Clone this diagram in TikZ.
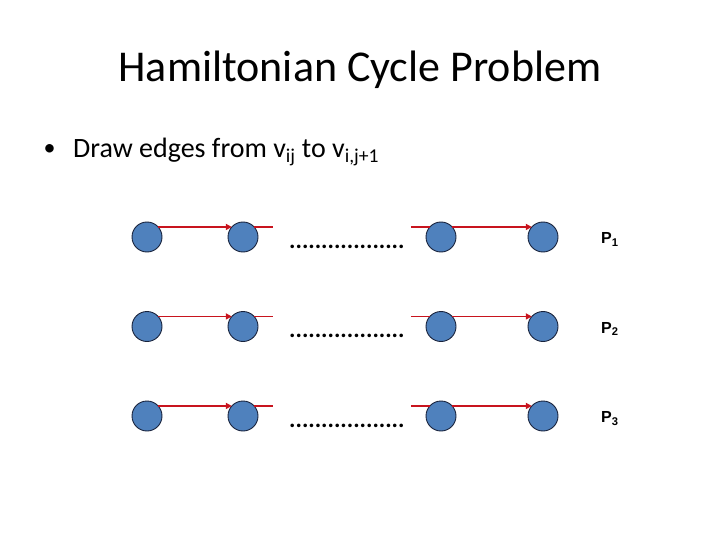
\documentclass[tikz,border=0pt]{standalone}
\usepackage{fontspec}
\setmainfont{Carlito}
\newfontfamily\arialfont{Liberation Sans}
\usetikzlibrary{arrows.meta,calc}
\definecolor{nodeblue}{RGB}{79,129,189}
\definecolor{nodeline}{RGB}{25,35,60}
\definecolor{edgered}{RGB}{200,20,30}
\tikzset{
  vert/.style={circle,fill=nodeblue,draw=nodeline,line width=0.9pt,minimum size=30pt,inner sep=0pt,outer sep=0pt},
  edge/.style={draw=edgered,line width=1.6pt},
  arr/.style={edge,-{Triangle[length=6pt,width=6pt]}},
  dotsl/.style={anchor=base west,inner sep=0pt,font=\fontsize{24}{24}\selectfont\bfseries},
  plabel/.style={anchor=base west,inner sep=0pt,font=\arialfont\bfseries\fontsize{16}{16}\selectfont}
}
\begin{document}
\begin{tikzpicture}[x=1pt,y=-1pt]
\useasboundingbox (0,0) rectangle (720,540);
\node[anchor=base,inner sep=0pt,font=\fontsize{44}{44}\selectfont] (title) at (360,81.7) {Hamiltonian Cycle Problem};
\node[anchor=base,inner sep=0pt,font=\fontsize{24}{24}\selectfont] (bul) at (49.5,156) {•};
\node[anchor=base west,inner sep=0pt,font=\fontsize{28}{28}\selectfont] (btext) at (73,157.3) {Draw edges from v\textsubscript{ij} to v\textsubscript{i,j+1}};
\foreach \r/\y in {1/237,2/326.5,3/416}{
  \node[vert] (v\r1) at (147,\y) {};
  \node[vert] (v\r2) at (243,\y) {};
  \node[vert] (v\r3) at (441,\y) {};
  \node[vert] (v\r4) at (543,\y) {};
  \coordinate (s\r a) at ($(v\r2.42)+(19,0)$);
  \coordinate (s\r b) at ($(v\r3.138)+(-19,0)$);
  \draw[arr] (v\r1.42) -- (v\r2.138);
  \draw[edge] (v\r2.42) -- (s\r a);
  \draw[edge] (s\r b) -- (v\r3.138);
  \draw[arr] (v\r3.42) -- (v\r4.138);
  \node[dotsl] (d\r) at (289,\y+11) {..................};
  \node[plabel] (p\r) at (601,\y+6.5) {P\textsubscript{\r}};
}
\end{tikzpicture}
\end{document}
